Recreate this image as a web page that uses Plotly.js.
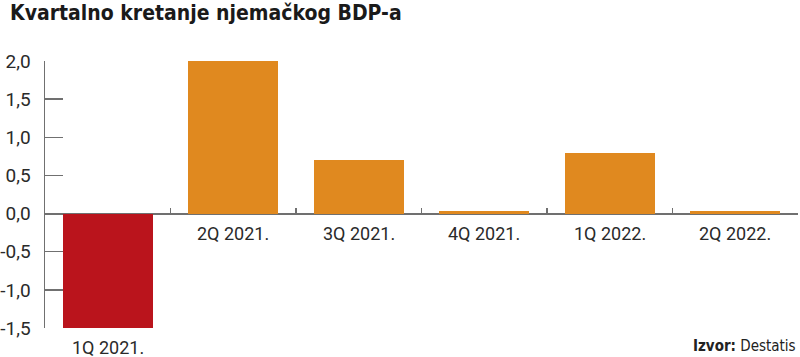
<!DOCTYPE html>
<html><head><meta charset="utf-8">
<script src="https://cdn.plot.ly/plotly-3.0.1.min.js"></script>
<style>html,body{margin:0;padding:0;background:#fff}#chart{width:800px;height:357px}</style>
</head><body><div id="chart"></div>
<script>
const categories = ['1Q 2021.', '2Q 2021.', '3Q 2021.', '4Q 2021.', '1Q 2022.', '2Q 2022.'];
const values = [-1.5, 2.0, 0.7, 0.04, 0.8, 0.04];
const yTickVals = [-1.5, -1.0, -0.5, 0.0, 0.5, 1.0, 1.5, 2.0];
const yTickText = ['-1,5', '-1,0', '-0,5', '0,0', '0,5', '1,0', '1,5', '2,0'];
const titleText = 'Kvartalno kretanje njemačkog BDP-a';
const sourceText = '<b>Izvor:</b> Destatis';

const ORANGE = '#E0891F', RED = '#BA141C', AXIS = '#707070';
const COND = 'DejaVu Sans Condensed, Liberation Sans Narrow, sans-serif';
const LIGHT = 'Roboto, Lato, sans-serif';
const yMin = -1.5, yMax = 2.0;

const trace = {
  type: 'bar', x: categories, y: values,
  marker: {color: values.map(v => v < 0 ? RED : ORANGE), line: {width: 0}},
  width: 0.72, hoverinfo: 'none'
};

const annotations = categories.map((c, i) => ({
  x: c, y: values[i] < 0 ? values[i] : 0, xref: 'x', yref: 'y',
  text: c, showarrow: false, xanchor: 'center', yanchor: 'top', yshift: -7,
  font: {family: LIGHT, size: 18, color: '#2a2a2a'}
}));
annotations.push({
  xref: 'paper', yref: 'paper', x: 1, y: 0, xanchor: 'right', yanchor: 'top', yshift: -7,
  text: sourceText, showarrow: false,
  font: {family: COND, size: 15, color: '#222'}
});

const layout = {
  width: 800, height: 357,
  margin: {l: 45, r: 2, t: 61, b: 29},
  paper_bgcolor: '#fff', plot_bgcolor: '#fff',
  separators: ',.',
  showlegend: false,
  title: {
    text: '<b>' + titleText + '</b>',
    xref: 'container', yref: 'container', x: 10/800, xanchor: 'left',
    y: 1 - 13/357, yanchor: 'middle',
    font: {family: COND, size: 21, color: '#1a1a1a'}
  },
  xaxis: {
    type: 'category', range: [-0.5, categories.length - 0.5],
    anchor: 'free', position: (0 - yMin) / (yMax - yMin),
    showline: false, showgrid: false, zeroline: false,
    ticks: 'inside', tickson: 'boundaries', ticklen: 6, tickwidth: 1.5, tickcolor: AXIS,
    showticklabels: false, fixedrange: true
  },
  yaxis: {
    range: [yMin, yMax], tickvals: yTickVals, ticktext: yTickText,
    showline: true, linecolor: AXIS, linewidth: 1.5,
    showgrid: false, zeroline: true, zerolinecolor: AXIS, zerolinewidth: 2,
    ticks: 'inside', ticklen: 18, tickwidth: 1.5, tickcolor: AXIS,
    ticklabelstandoff: 9,
    tickfont: {family: LIGHT, size: 19, color: '#2a2a2a'},
    fixedrange: true
  },
  annotations: annotations,
  bargap: 0
};

Plotly.newPlot('chart', [trace], layout, {displayModeBar: false, staticPlot: true});
</script></body></html>
